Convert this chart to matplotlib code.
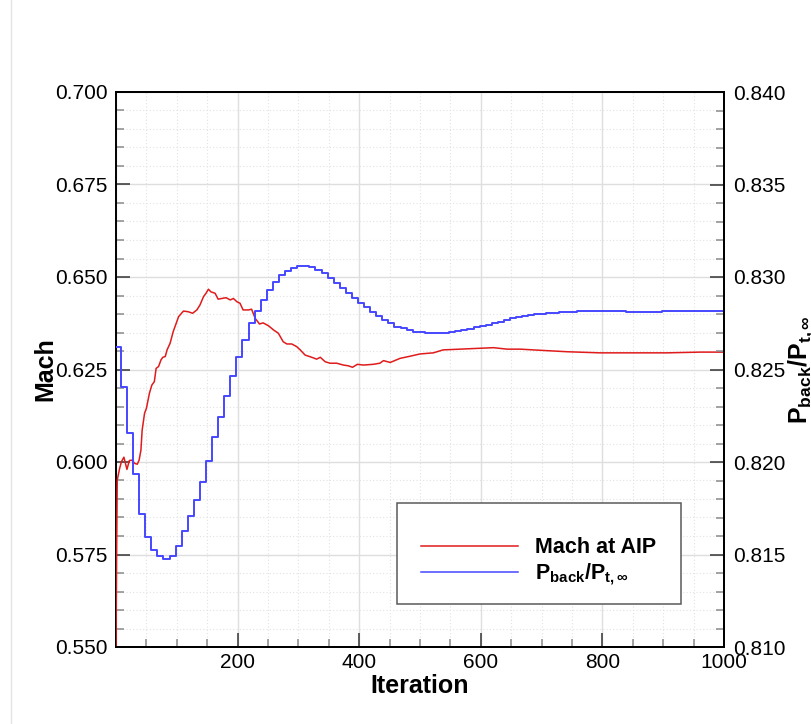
import matplotlib
matplotlib.use("Agg")
import matplotlib.pyplot as plt
from matplotlib.ticker import MultipleLocator, FuncFormatter, FormatStrFormatter
from matplotlib.lines import Line2D
from matplotlib.patches import Rectangle

plt.rcParams['font.family'] = ['Liberation Sans', 'DejaVu Sans']
plt.rcParams['mathtext.fontset'] = 'custom'
plt.rcParams['mathtext.rm'] = 'Liberation Sans'
plt.rcParams['mathtext.bf'] = 'Liberation Sans:bold'
plt.rcParams['mathtext.it'] = 'Liberation Sans:italic'

# Mach number at the aerodynamic interface plane vs. iteration
mach_iter = [0, 1, 2, 6, 9, 13, 18, 22, 26, 31, 35, 38, 41, 43, 47, 50, 55, 59,
             63, 66, 70, 74, 77, 81, 84, 89, 94, 103, 111, 119, 126, 133, 138,
             144, 148, 152, 156, 163, 168, 174, 181, 188, 193, 199, 204, 209,
             218, 223, 229, 236, 242, 251, 259, 267, 275, 281, 289, 297, 303,
             311, 322, 330, 336, 344, 352, 363, 374, 382, 389, 397, 407, 423,
             434, 440, 451, 467, 484, 500, 522, 538, 566, 593, 621, 643, 665,
             686, 742, 796, 850, 906, 961, 1000]
mach_aip = [0.5500, 0.5750, 0.5951, 0.5983, 0.6001, 0.6013, 0.5980, 0.6004,
            0.6005, 0.5996, 0.5994, 0.6005, 0.6032, 0.6086, 0.6132, 0.6145,
            0.6186, 0.6208, 0.6217, 0.6253, 0.6258, 0.6276, 0.6283, 0.6285,
            0.6303, 0.6321, 0.6352, 0.6393, 0.6408, 0.6406, 0.6402, 0.6411,
            0.6424, 0.6447, 0.6456, 0.6467, 0.6460, 0.6456, 0.6440, 0.6442,
            0.6444, 0.6438, 0.6442, 0.6433, 0.6429, 0.6411, 0.6411, 0.6413,
            0.6388, 0.6373, 0.6376, 0.6368, 0.6357, 0.6348, 0.6325, 0.6319,
            0.6319, 0.6312, 0.6303, 0.6289, 0.6283, 0.6278, 0.6283, 0.6271,
            0.6267, 0.6267, 0.6262, 0.6260, 0.6256, 0.6264, 0.6262, 0.6264,
            0.6267, 0.6274, 0.6269, 0.6280, 0.6286, 0.6292, 0.6295, 0.6303,
            0.6305, 0.6307, 0.6309, 0.6305, 0.6305, 0.6303, 0.6298, 0.6295,
            0.6295, 0.6295, 0.6297, 0.6297]

# Back-pressure ratio, updated every 10 iterations (step-wise)
pback_iter = [0] + list(range(8, 1000, 10))
pback_ratio = [0.82622, 0.82404, 0.82158, 0.81933, 0.81717, 0.81592, 0.81524,
               0.81492, 0.81477, 0.81492, 0.81546, 0.81629, 0.81710, 0.81795,
               0.81894, 0.82007, 0.82134, 0.82245, 0.82357, 0.82467, 0.82569,
               0.82659, 0.82750, 0.82815, 0.82876, 0.82930, 0.82975, 0.83011,
               0.83034, 0.83049, 0.83057, 0.83057, 0.83052, 0.83038, 0.83023,
               0.82993, 0.82966, 0.82939, 0.82915, 0.82885, 0.82861, 0.82836,
               0.82812, 0.82791, 0.82768, 0.82750, 0.82731, 0.82723, 0.82714,
               0.82704, 0.82701, 0.82699, 0.82697, 0.82697, 0.82699, 0.82704,
               0.82708, 0.82714, 0.82721, 0.82728, 0.82735, 0.82741, 0.82750,
               0.82758, 0.82768, 0.82777, 0.82784, 0.82789, 0.82795, 0.82798,
               0.82802, 0.82805, 0.82808, 0.82811, 0.82812, 0.82813, 0.82814,
               0.82815, 0.82815, 0.82815, 0.82815, 0.82815, 0.82814, 0.82814,
               0.82813, 0.82813, 0.82813, 0.82813, 0.82813, 0.82813, 0.82814,
               0.82814, 0.82814, 0.82814, 0.82815, 0.82815, 0.82815, 0.82815,
               0.82816, 0.82816, 0.82816]

mach_label = 'Mach at AIP'
pback_label = r'$\mathbf{P_{back}/P_{t,\infty}}$'

W, H = 811, 724
fig = plt.figure(figsize=(W / 100, H / 100), dpi=100)
ax = fig.add_axes([116 / W, 1 - 647 / H, 608 / W, 555 / H])
ax2 = ax.twinx()

# faint page border on the left
fig.add_artist(Line2D([11 / W, 11 / W], [0, 1], transform=fig.transFigure,
                      color='#e4e4e4', lw=1))

red = '#e01b1b'
blue = '#4646ff'

ax.plot(mach_iter, mach_aip, color=red, lw=1.1, zorder=3)
ax2.step(pback_iter + [1000], pback_ratio + [pback_ratio[-1]], where='post',
         color=blue, lw=1.4)

ax.set_xlim(0, 1000)
ax.set_ylim(0.55, 0.70)
ax2.set_ylim(0.81, 0.84)

ax.xaxis.set_major_locator(MultipleLocator(200))
ax.xaxis.set_minor_locator(MultipleLocator(50))
ax.xaxis.set_major_formatter(FuncFormatter(lambda v, p: '' if v == 0 else f'{v:.0f}'))
ax.yaxis.set_major_locator(MultipleLocator(0.025))
ax.yaxis.set_minor_locator(MultipleLocator(0.005))
ax.yaxis.set_major_formatter(FormatStrFormatter('%.3f'))
ax2.yaxis.set_major_locator(MultipleLocator(0.005))
ax2.yaxis.set_minor_locator(MultipleLocator(0.001))
ax2.yaxis.set_major_formatter(FormatStrFormatter('%.3f'))

ax.set_axisbelow(True)
ax.grid(which='major', color='#dedede', lw=1.0, ls='-')
ax.grid(which='minor', color='#e2e2e2', lw=0.8, ls=(0, (1, 2)))

for a in (ax, ax2):
    a.tick_params(which='major', direction='in', length=10, width=1.1,
                  color='#333333', labelsize=15)
    a.tick_params(which='minor', direction='in', length=5.8, width=1.1,
                  color='#8a8a8a')
    for s in a.spines.values():
        s.set_linewidth(1.4)
        s.set_color('black')
# the Mach trace starts on the left spine and is drawn over it
ax2.spines['left'].set_visible(False)
ax.spines['left'].set_zorder(2.5)

ax.tick_params(axis='x', which='both', top=False, pad=4.3)
ax.tick_params(axis='y', which='both', left=True, right=False, pad=6.3)
ax2.tick_params(axis='y', which='both', left=False, right=True, pad=6.3)

ax.set_xlabel('Iteration', fontsize=18, fontweight='bold')
ax.xaxis.set_label_coords(0.5, -0.0495)
ax.set_ylabel('Mach', fontsize=18, fontweight='bold')
ax.yaxis.set_label_coords(-0.097, 0.5)
ax2.set_ylabel(pback_label, fontsize=18)
ax2.yaxis.set_label_coords((787 - 116) / 608, 0.5)

# legend box
def fx(px):
    return (px - 116) / 608

def fy(py):
    return (647 - py) / 555

ax2.add_patch(Rectangle((fx(397), fy(604.3)), fx(680.5) - fx(397),
                        fy(502.7) - fy(604.3), transform=ax2.transAxes,
                        facecolor='white', edgecolor='#5a5a5a', lw=1.1,
                        zorder=10))
ax2.add_line(Line2D([fx(420.7), fx(518.3)], [fy(546), fy(546)],
                    transform=ax2.transAxes, color=red, lw=1.1, zorder=11))
ax2.add_line(Line2D([fx(420.7), fx(518.3)], [fy(571.7), fy(571.7)],
                    transform=ax2.transAxes, color=blue, lw=1.1, zorder=11))
ax2.text(fx(535), fy(552.7), mach_label, transform=ax2.transAxes,
         fontsize=15.5, fontweight='bold', ha='left', va='baseline', zorder=12)
ax2.text(fx(535), fy(579.3), pback_label, transform=ax2.transAxes,
         fontsize=15.5, ha='left', va='baseline', zorder=12)

fig.savefig('out.png', dpi=100)
